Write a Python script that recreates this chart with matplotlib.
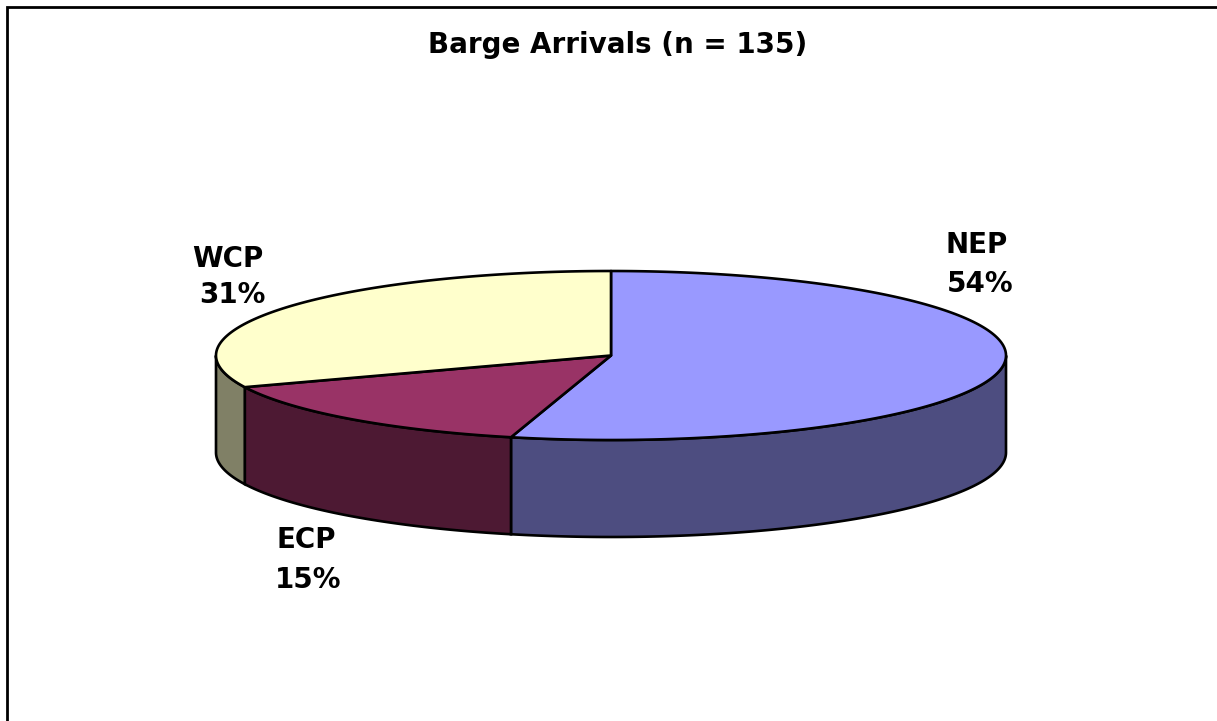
import numpy as np
import matplotlib
matplotlib.use('Agg')
import matplotlib.pyplot as plt

labels = ['NEP', 'ECP', 'WCP']
counts = [73, 20, 42]  # n = 135
top_colors = ['#9999ff', '#993366', '#ffffcc']
side_colors = ['#4d4d80', '#4d1933', '#808066']

plt.rcParams['font.family'] = ['DejaVu Sans']

W, H = 1217, 721
fig = plt.figure(figsize=(W / 100, H / 100), dpi=100)
ax = fig.add_axes([0, 0, 1, 1])
ax.set_xlim(0, W)
ax.set_ylim(H, 0)
ax.axis('off')

# frame is cut off by the bottom of the picture
ax.plot([7, 7, W], [H, 7, 7], color='black', lw=2, solid_joinstyle='miter')

cx, cy = 611, 355.5
rx, ry = 395, 84.5
depth = 97


def rim(a0, a1):
    t = np.radians(np.linspace(a0, a1, 200))
    return cx + rx * np.sin(t), cy - ry * np.cos(t)


# pie runs clockwise from 12 o'clock
edges = np.concatenate([[0], np.cumsum(counts)]) / sum(counts) * 360

for i in range(len(counts)):
    a0, a1 = edges[i], edges[i + 1]
    # side wall, only the front half of the rim shows
    s0, s1 = max(a0, 90), min(a1, 270)
    if s1 > s0:
        x, y = rim(s0, s1)
        ax.fill(np.r_[x, x[::-1]], np.r_[y, y[::-1] + depth],
                facecolor=side_colors[i], edgecolor='black', lw=1.9, zorder=2)
    x, y = rim(a0, a1)
    ax.fill(np.r_[cx, x], np.r_[cy, y], facecolor=top_colors[i],
            edgecolor='black', lw=1.9, joinstyle='round', zorder=3)

ax.text(617.5, 53, 'Barge Arrivals (n = 135)', ha='center', va='baseline',
        fontsize=20, fontweight='bold')

name_pos = [(976.5, 253), (306, 548), (228, 267)]
pct_pos = [(980, 292), (308, 588), (232, 303)]
for i, name in enumerate(labels):
    pct = round(100 * counts[i] / sum(counts))
    ax.text(*name_pos[i], name, ha='center', va='baseline', fontsize=20, fontweight='bold')
    ax.text(*pct_pos[i], f'{pct}%', ha='center', va='baseline', fontsize=20, fontweight='bold')

fig.savefig('out.png', dpi=100)
